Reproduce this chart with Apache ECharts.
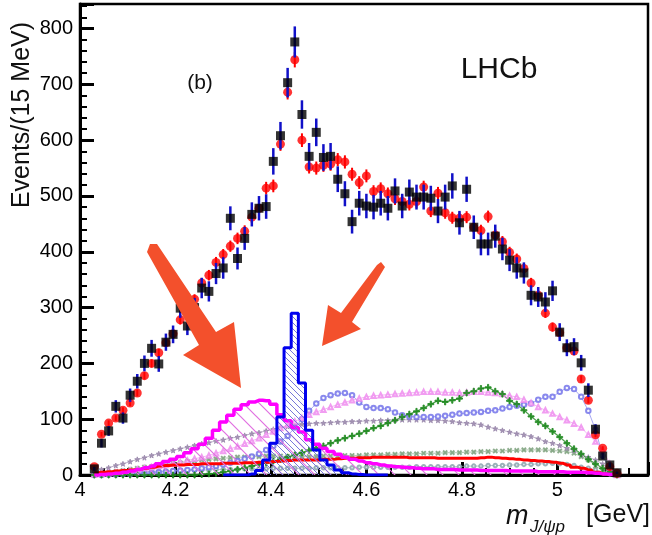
<!DOCTYPE html>
<html><head><meta charset="utf-8">
<script src="https://cdn.jsdelivr.net/npm/echarts@6/dist/echarts.min.js"></script>
<style>html,body{margin:0;padding:0;background:#fff}#c{width:652px;height:535px}</style>
</head><body><div id="c"></div>
<script>
// bin centres (GeV), 15 MeV bins
const binCenters = [4.030,4.045,4.060,4.075,4.090,4.105,4.120,4.135,4.150,4.165,4.180,4.195,4.210,4.225,4.240,4.255,4.270,4.285,4.300,4.315,4.330,4.345,4.360,4.375,4.390,4.405,4.420,4.435,4.450,4.465,4.480,4.495,4.510,4.525,4.540,4.555,4.570,4.585,4.600,4.615,4.630,4.645,4.660,4.675,4.690,4.705,4.720,4.735,4.750,4.765,4.780,4.795,4.810,4.825,4.840,4.855,4.870,4.885,4.900,4.915,4.930,4.945,4.960,4.975,4.990,5.005,5.020,5.035,5.050,5.065,5.080,5.095,5.110,5.125];
// data (black squares)
const dataCounts = [11,57,79,123,102,143,168,200,227,199,238,252,299,267,300,335,329,361,371,460,388,424,467,478,481,562,608,703,776,646,571,614,569,571,530,504,454,487,482,480,487,478,509,482,507,498,498,496,473,498,518,452,512,444,414,414,428,405,385,371,362,322,319,310,330,256,228,230,201,152,82,34,18,4];
// total fit (red circles)
const fitValues = [15,73,93,102,116,129,147,178,200,219,237,253,278,292,315,344,358,381,395,410,424,437,462,478,514,518,593,686,744,600,552,550,555,557,565,561,539,524,536,508,513,504,495,490,485,490,516,473,505,470,461,460,462,444,438,463,430,418,399,387,370,344,322,290,265,255,228,222,172,134,72,48,15,3];
// fit components
const pc4380 = [0,1,2,3,5,7,10,13,16,20,24,28,33,40,47,55,66,80,95,107,118,126,131,134,133,127,108,97,85,77,63,55,48,42,37,32,28,25,22,20,18,16,15,14,13,12,11,11,10,10,10,9,9,9,8,8,8,8,7,7,7,7,6,6,6,6,5,5,5,4,3,2,1,0];
const pc4450 = [0,0,0,0,0,0,0,0,0,0,0,0,0,0,0,0,0,0,0,0,0,0,2,8,27,57,104,228,290,165,80,45,27,18,9,4,2,1,0,0,0,0,0,0,0,0,0,0,0,0,0,0,0,0,0,0,0,0,0,0,0,0,0,0,0,0,0,0,0,0,0,0,0,0];
const background = [4,5,6,7,8,9,10,12,14,16,17,18,18,19,19,20,20,20,21,21,21,22,22,23,23,24,25,26,27,27,27,27,28,28,29,30,30,31,31,32,32,32,32,32,31,31,31,31,30,30,30,30,30,30,31,32,31,30,29,28,27,26,25,24,23,21,18,14,12,9,5,2,1,0];
const lambda1520 = [0,0,0,0,0,0,0,0,0,0,0,0,0,0,0,1,2,3,5,7,10,13,16,19,22,25,28,32,36,40,44,48,52,57,62,66,70,74,79,84,88,93,98,104,109,114,120,127,133,131,134,137,147,150,155,157,150,145,133,127,116,105,95,88,78,68,57,47,38,28,20,12,5,0];
const lambdaTri = [1,2,3,4,6,8,10,12,14,16,18,20,23,26,29,32,35,39,43,47,51,56,61,66,72,78,84,90,96,102,108,113,117,122,126,130,134,137,140,142,143,144,145,146,147,148,149,149,149,148,148,147,148,149,149,148,147,145,142,140,135,129,122,116,110,104,98,92,85,72,60,45,20,0];
const lambdaCirc = [0,0,1,1,2,2,3,3,4,5,6,7,8,9,10,12,14,16,19,22,25,29,33,38,45,52,60,70,85,100,115,128,138,143,146,147,143,130,122,120,120,118,112,107,105,104,104,104,105,106,108,110,111,112,113,115,116,119,122,124,126,128,135,140,140,149,156,154,140,115,81,35,10,0];
const lambdaStar = [6,10,13,17,20,24,28,31,35,38,41,44,47,50,53,56,58,61,63,66,68,71,74,76,79,82,85,87,90,91,92,93,93,94,95,95,96,96,97,97,98,98,99,99,99,99,99,98,98,97,96,94,93,92,90,86,83,80,77,74,72,69,65,60,57,53,48,44,36,32,27,20,10,0];
const lambdaX = [1,2,4,6,8,10,12,14,15,17,19,21,22,24,25,27,28,29,30,31,32,32,33,33,34,34,34,33,33,33,33,33,34,34,34,35,35,35,36,36,36,37,37,38,38,38,39,39,39,40,40,40,41,41,42,42,43,43,44,44,45,45,45,45,44,43,42,39,33,27,16,8,3,0];
const lambdaDot = [1,2,3,3,4,5,5,6,6,7,7,8,8,8,9,9,9,10,10,10,10,11,11,11,11,12,12,12,12,12,12,13,13,13,13,13,13,14,14,14,14,14,14,14,14,15,15,15,15,15,15,15,16,16,16,17,17,17,18,18,19,19,20,20,21,20,19,17,14,12,9,5,2,0];

const xTickLabels = ['4','4.2','4.4','4.6','4.8','5'];
const yTickLabels = ['0','100','200','300','400','500','600','700','800'];

function pairs(arr){ return binCenters.map((x,i)=>[x, arr[i]]); }
function errTriples(vals, scale){ return binCenters.map((x,i)=>[x, vals[i], scale*Math.sqrt(vals[i])]); }

function hatch(color, s, lw){
  const c = document.createElement('canvas'); c.width = s; c.height = s;
  const g = c.getContext('2d'); g.strokeStyle = color; g.lineWidth = lw;
  g.beginPath();
  g.moveTo(-2,-2); g.lineTo(s+2,s+2);
  g.moveTo(-2,s-2); g.lineTo(2,s+2);
  g.moveTo(s-2,-2); g.lineTo(s+2,2);
  g.stroke();
  return c;
}

function errRender(color, width){
  return function(params, api){
    const x = api.value(0), y = api.value(1), e = api.value(2);
    const p1 = api.coord([x, y - e]), p2 = api.coord([x, y + e]);
    return {type:'line', shape:{x1:p1[0], y1:p1[1], x2:p2[0], y2:p2[1]}, style:{stroke:color, lineWidth:width}};
  };
}

const FONT = 'Liberation Sans, Arial, Helvetica, sans-serif';
const plusPath = 'path://M4,0h2v4h4v2h-4v4h-2v-4h-4v-2h4z';
const starPath = 'path://M5,0L6.2,3.5L10,3.6L7,5.9L8.1,9.5L5,7.4L1.9,9.5L3,5.9L0,3.6L3.8,3.5Z';

function markerSeries(arr, color, symbol, size, rotate, lw){
  return {type:'line', data:pairs(arr), symbol:symbol, symbolSize:size, symbolRotate:rotate||0,
    showSymbol:true, showAllSymbol:true, lineStyle:{color:color, width:lw||0.8, opacity:0.8},
    itemStyle:{color:color, borderColor:color, borderWidth:1, opacity:0.85},
    z:2, silent:true};
}

const chart = echarts.init(document.getElementById('c'), null, {renderer:'canvas'});
chart.setOption({
  animation:false,
  backgroundColor:'#fff',
  grid:{left:80, right:4, top:4, bottom:60, show:true, borderColor:'#000', borderWidth:2.5},
  xAxis:{type:'value', min:4, max:5.19, interval:0.2,
    axisLine:{show:true, lineStyle:{color:'#000', width:3}},
    axisTick:{show:true, inside:true, length:13, lineStyle:{color:'#000', width:3}},
    minorTick:{show:true, splitNumber:4, length:7, lineStyle:{color:'#000', width:2}},
    splitLine:{show:false},
    axisLabel:{color:'#000', fontSize:20, fontFamily:FONT, margin:5, showMaxLabel:false,
      formatter:function(v){ const i = Math.round((v-4)/0.2); return Math.abs(v-4-0.2*i)<1e-6 && i<xTickLabels.length ? xTickLabels[i] : ''; }}
  },
  yAxis:{type:'value', min:0, max:844, interval:100,
    axisLine:{show:true, lineStyle:{color:'#000', width:3}},
    axisTick:{show:true, inside:true, length:14, lineStyle:{color:'#000', width:3}},
    minorTick:{show:true, splitNumber:5, length:7, lineStyle:{color:'#000', width:2}},
    splitLine:{show:false},
    axisLabel:{color:'#000', fontSize:20, fontFamily:FONT, margin:7, showMaxLabel:false,
      formatter:function(v){ const i = Math.round(v/100); return Math.abs(v-100*i)<1e-6 && i<yTickLabels.length ? yTickLabels[i] : ''; }}
  },
  series:[
    markerSeries(lambdaDot, '#8aa4ae', 'emptyCircle', 3.5),
    markerSeries(lambdaX, '#86a886', plusPath, 5, 45),
    markerSeries(lambdaStar, '#9a88ac', starPath, 5),
    markerSeries(lambdaCirc, '#7474ea', 'emptyCircle', 4.5),
    markerSeries(lambdaTri, '#ee8cee', 'emptyTriangle', 4.5),
    markerSeries(lambda1520, '#1f8a1f', plusPath, 6, 0, 1.2),
    {type:'line', data:pairs(background), step:'middle', symbol:'none', lineStyle:{color:'#ff0000', width:3}, z:3, silent:true},
    {type:'line', data:pairs(pc4380), step:'middle', symbol:'none', lineStyle:{color:'#ff00ff', width:3.5},
      areaStyle:{color:{image:hatch('#e070e0', 16, 1.2), repeat:'repeat'}, opacity:1}, z:4, silent:true},
    {type:'line', data:pairs(pc4450).slice(18,42), step:'middle', symbol:'none', lineStyle:{color:'#0000ee', width:3},
      areaStyle:{color:{image:hatch('#7878d8', 6, 1), repeat:'repeat'}, opacity:1}, z:5, silent:true},
    {type:'custom', renderItem:errRender('#ff0000', 2), data:errTriples(fitValues, 0.5), encode:{x:0, y:1}, z:6, silent:true},
    {type:'scatter', data:pairs(fitValues), symbol:'circle', symbolSize:9, itemStyle:{color:'#ff0000'}, z:7, silent:true},
    {type:'custom', renderItem:errRender('#1010c8', 2.5), data:errTriples(dataCounts, 1), encode:{x:0, y:1}, z:8, silent:true},
    {type:'scatter', data:pairs(dataCounts), symbol:'rect', symbolSize:9, itemStyle:{color:'#000'}, z:9, silent:true}
  ],
  graphic:[
    {type:'polygon', z:100, shape:{points:[[147,252],[150,244],[157,244],[216,332],[234,322],[241,388],[183,355],[199,345]]},
      style:{fill:'#f3502c'}},
    {type:'polygon', z:100, shape:{points:[[377,265],[381,262],[385,267],[352,322],[361,329],[322,346],[328,305],[341,313]]},
      style:{fill:'#f3502c'}},
    {type:'text', z:100, x:200, y:83, style:{text:'(b)', font:'21px '+FONT, fill:'#111', textAlign:'center', textVerticalAlign:'middle'}},
    {type:'text', z:100, x:499, y:70, style:{text:'LHCb', font:'30px '+FONT, fill:'#111', textAlign:'center', textVerticalAlign:'middle'}},
    {type:'text', z:100, x:22, y:115, rotation:Math.PI/2, style:{text:'Events/(15 MeV)', font:'25px '+FONT, fill:'#111', textAlign:'center', textVerticalAlign:'middle'}},
    {type:'text', z:100, x:506, y:516, style:{text:'m', font:'italic 27px '+FONT, fill:'#111', textAlign:'left', textVerticalAlign:'middle'}},
    {type:'text', z:100, x:530, y:527, style:{text:'J/\u03c8p', font:'italic 17px '+FONT, fill:'#111', textAlign:'left', textVerticalAlign:'middle'}},
    {type:'text', z:100, x:650, y:515, style:{text:'[GeV]', font:'25px '+FONT, fill:'#111', textAlign:'right', textVerticalAlign:'middle'}}
  ]
});
</script>
</body></html>
